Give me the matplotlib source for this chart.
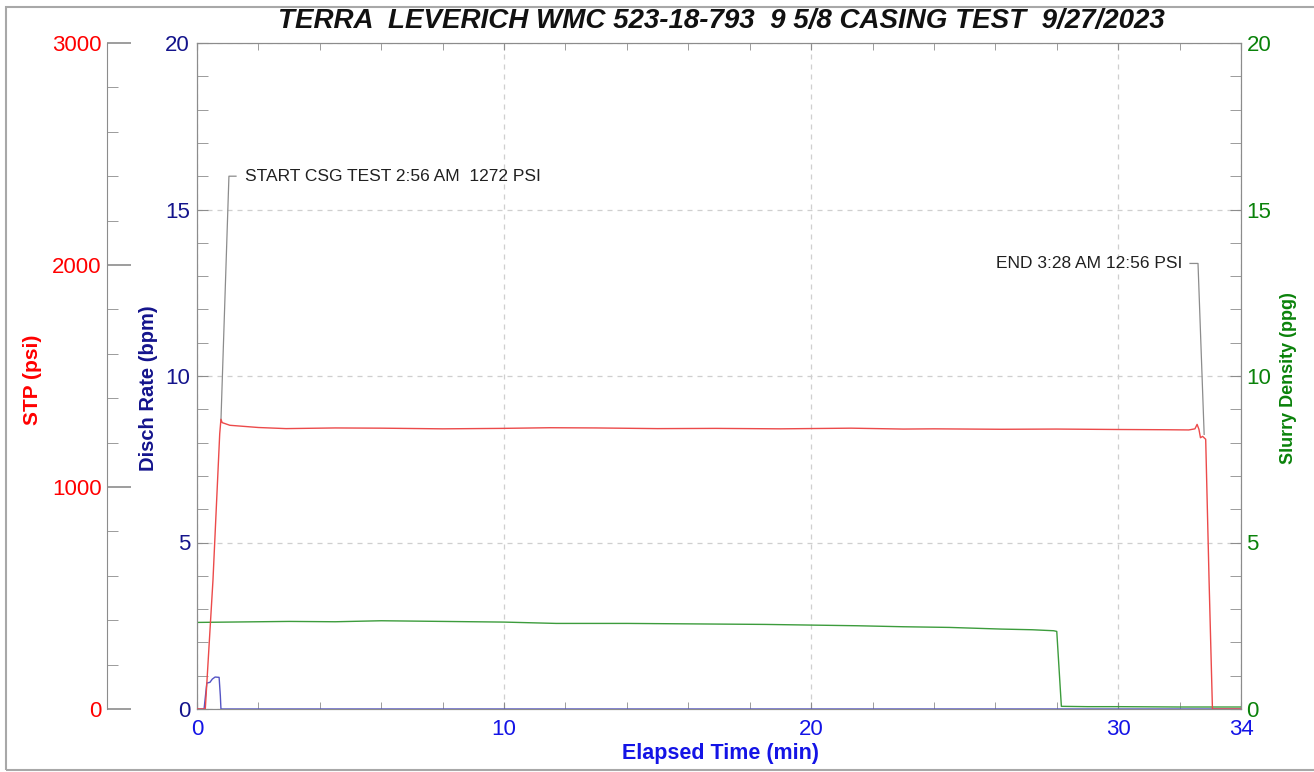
import matplotlib
matplotlib.use('Agg')
import matplotlib.pyplot as plt
from matplotlib.patches import Rectangle
from matplotlib.ticker import MultipleLocator, FixedLocator

plt.rcParams['font.family'] = ['Liberation Sans', 'DejaVu Sans']

# elapsed time (min) / values
stp_time = [0, 0.27, 0.52, 0.74, 0.78, 0.82, 1.07, 2.0, 2.9, 4.5, 6.0, 8.0, 9.9, 11.5, 13.0,
            15.0, 16.9, 19.0, 21.3, 23.0, 24.0, 26.2, 28.0, 30.0, 31.5, 32.3, 32.5, 32.57,
            32.63, 32.68, 32.75, 32.85, 32.96, 33.07, 34.0]
stp_psi = [0, 0, 580, 1240, 1305, 1290, 1278, 1268, 1263, 1266, 1265, 1262, 1264, 1267, 1266,
           1263, 1264, 1262, 1265, 1261, 1262, 1260, 1261, 1259, 1258, 1257, 1262, 1282,
           1260, 1222, 1228, 1215, 580, 0, 0]

rate_time = [0, 0.23, 0.32, 0.42, 0.5, 0.59, 0.72, 0.76, 0.78, 34.0]
rate_bpm = [0, 0, 0.78, 0.80, 0.90, 0.96, 0.95, 0.40, 0, 0]

dens_time = [0, 1.0, 2.0, 3.0, 4.5, 6.0, 8.0, 10.0, 11.7, 14.0, 17.0, 18.5, 20.0, 21.5, 23.0,
             24.5, 26.2, 27.2, 27.9, 28.0, 28.15, 29.0, 30.0, 32.0, 34.0]
dens_ppg = [2.60, 2.61, 2.62, 2.63, 2.62, 2.65, 2.63, 2.61, 2.57, 2.57, 2.55, 2.54, 2.52, 2.50,
            2.47, 2.45, 2.40, 2.38, 2.35, 2.33, 0.08, 0.07, 0.07, 0.06, 0.06]

# annotations: (text, text pos, leader points) in (min, psi)
start_text = 'START CSG TEST 2:56 AM  1272 PSI'
start_leader = [(0.78, 1300), (1.04, 2400), (1.27, 2400)]
start_pos = (1.56, 2400)
end_text = 'END 3:28 AM 12:56 PSI'
end_leader = [(32.8, 1237), (32.6, 2007), (32.34, 2007)]
end_pos = (32.08, 2007)

title = 'TERRA  LEVERICH WMC 523-18-793  9 5/8 CASING TEST  9/27/2023'

RED_LINE = '#ec4a4a'
BLUE_LINE = '#5454c4'
GREEN_LINE = '#3c9c3c'
SPINE = '#8c8c8c'
GRID = '#cfcfcf'
NAVY = '#14148c'
BLUE_TXT = '#1414e6'
GREEN_TXT = '#0a820a'

fig = plt.figure(figsize=(13.14, 7.72), dpi=100)
fig.patches.append(Rectangle((6 / 1314, 2 / 772), 1.0, 763 / 772, transform=fig.transFigure,
                             fill=False, edgecolor='#a8a8a8', lw=1.5))

ax = fig.add_axes([197 / 1314, 63 / 772, 1044 / 1314, 666 / 772])
ax_d = ax.twinx()
ax_p = ax.twinx()

# disch rate (main, left)
ax.plot(rate_time, rate_bpm, color=BLUE_LINE, lw=1.0, zorder=3)
ax.set_xlim(0, 34)
ax.set_ylim(0, 20)
ax.xaxis.set_major_locator(FixedLocator([0, 10, 20, 30, 34]))
ax.xaxis.set_minor_locator(MultipleLocator(2))
ax.yaxis.set_major_locator(MultipleLocator(5))
ax.yaxis.set_minor_locator(MultipleLocator(1))
ax.grid(True, which='major', color=GRID, ls=(0, (4, 4)), lw=0.9)
ax.tick_params(axis='x', which='both', direction='in', top=True, bottom=True, colors=SPINE,
               labelcolor=BLUE_TXT, labelsize=16, pad=7, length=5)
ax.tick_params(axis='y', which='major', direction='in', length=8, colors=SPINE,
               labelcolor=NAVY, labelsize=16, pad=5)
ax.tick_params(axis='y', which='minor', direction='in', length=8, colors=SPINE)
for s in ax.spines.values():
    s.set_color(SPINE)
ax.set_xlabel('Elapsed Time (min)', color=BLUE_TXT, fontsize=15.5, fontweight='bold')
ax.xaxis.set_label_coords(0.501, -0.051)
ax.set_ylabel('Disch Rate (bpm)', color=NAVY, fontsize=14.5, fontweight='bold')
ax.yaxis.set_label_coords(-0.0374, 0.482)

# slurry density (right)
ax_d.plot(dens_time, dens_ppg, color=GREEN_LINE, lw=1.0)
ax_d.set_ylim(0, 20)
ax_d.yaxis.set_major_locator(MultipleLocator(5))
ax_d.yaxis.set_minor_locator(MultipleLocator(1))
ax_d.tick_params(axis='y', which='both', direction='in', length=8, colors=SPINE,
                 labelcolor=GREEN_TXT, labelsize=16, pad=4)
for s in ax_d.spines.values():
    s.set_color(SPINE)
ax_d.set_ylabel('Slurry Density (ppg)', color=GREEN_TXT, fontsize=13, fontweight='bold')
ax_d.yaxis.set_label_coords(1.037, 0.497)

# STP (offset left axis)
ax_p.plot(stp_time, stp_psi, color=RED_LINE, lw=1.0)
ax_p.set_ylim(0, 3000)
ax_p.yaxis.set_label_position('left')
ax_p.yaxis.set_ticks_position('left')
ax_p.spines['left'].set_position(('axes', -90 / 1044))
ax_p.spines['left'].set_color(SPINE)
for k in ['right', 'top', 'bottom']:
    ax_p.spines[k].set_visible(False)
ax_p.yaxis.set_major_locator(MultipleLocator(1000))
ax_p.yaxis.set_minor_locator(MultipleLocator(200))
ax_p.tick_params(axis='y', which='major', direction='in', length=17, width=1.2, colors=SPINE,
                 labelcolor='#ff0000', labelsize=16, pad=4)
ax_p.tick_params(axis='y', which='minor', direction='in', length=8, colors=SPINE)
ax_p.set_ylabel('STP (psi)', color='#ff0000', fontsize=15, fontweight='bold')
ax_p.yaxis.set_label_coords(-0.1485, 0.494)

# annotations
for pts, pos, txt, ha in [(start_leader, start_pos, start_text, 'left'),
                          (end_leader, end_pos, end_text, 'right')]:
    ax_p.plot([p[0] for p in pts], [p[1] for p in pts], color='#8c8c8c', lw=0.9, zorder=1)
    ax_p.text(pos[0], pos[1], txt, ha=ha, va='center', fontsize=12.5, color='#202020')

fig.text(721 / 1314, 1 - 21 / 772, title, ha='center', va='center', fontsize=20,
         fontweight='bold', style='italic', color='#111111')

fig.savefig('out.png', dpi=100)
